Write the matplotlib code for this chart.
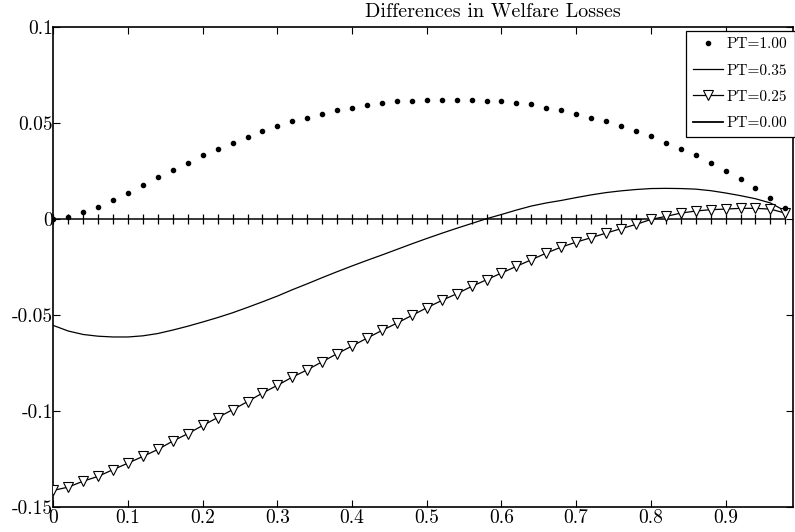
import matplotlib
matplotlib.use("Agg")
import matplotlib.pyplot as plt
from matplotlib.lines import Line2D
import numpy as np

plt.rcParams['font.family'] = ['cmr10', 'DejaVu Serif']
plt.rcParams['mathtext.fontset'] = 'cm'
plt.rcParams['axes.formatter.use_mathtext'] = True

x = [round(0.02 * i, 2) for i in range(50)]

pt100 = [0.0, 0.001, 0.0033, 0.006, 0.0099, 0.0135, 0.0177, 0.0217, 0.0255, 0.0292,
         0.033, 0.0365, 0.0396, 0.0425, 0.0455, 0.0482, 0.0507, 0.0526, 0.0543, 0.0564,
         0.0578, 0.0594, 0.0604, 0.0611, 0.0615, 0.062, 0.062, 0.062, 0.062, 0.0615,
         0.0611, 0.0602, 0.0595, 0.0578, 0.0564, 0.0543, 0.0524, 0.0507, 0.0482, 0.0455,
         0.043, 0.0396, 0.0365, 0.033, 0.0288, 0.025, 0.0208, 0.0159, 0.0107, 0.0055]

pt035 = [-0.0556, -0.0585, -0.0603, -0.0612, -0.0616, -0.0616, -0.0610, -0.0598, -0.0580, -0.0560,
         -0.0538, -0.0515, -0.0490, -0.0462, -0.0433, -0.0403, -0.0370, -0.0339, -0.0307, -0.0276,
         -0.0246, -0.0217, -0.0189, -0.0160, -0.0131, -0.0103, -0.0076, -0.0050, -0.0025, 0.0000,
         0.0022, 0.0045, 0.0066, 0.0082, 0.0095, 0.0110, 0.0124, 0.0136, 0.0145, 0.0152,
         0.0157, 0.0158, 0.0157, 0.0154, 0.0146, 0.0134, 0.0120, 0.0104, 0.0082, 0.0040]

pt025 = [-0.1415, -0.1398, -0.1367, -0.1342, -0.1307, -0.1273, -0.1238, -0.1202, -0.1158, -0.1120,
         -0.1077, -0.1036, -0.0995, -0.0953, -0.0908, -0.0868, -0.0825, -0.0787, -0.0745, -0.0703,
         -0.0663, -0.0622, -0.0582, -0.0544, -0.0504, -0.0464, -0.0426, -0.0391, -0.0353, -0.0318,
         -0.0283, -0.0248, -0.0214, -0.0179, -0.0148, -0.0122, -0.0099, -0.0075, -0.0052, -0.0030,
         -0.0004, 0.0012, 0.0029, 0.0040, 0.0047, 0.0050, 0.0054, 0.0054, 0.0050, 0.0029]

pt000 = [0.0] * 50

labels = ['PT=1.00', 'PT=0.35', 'PT=0.25', 'PT=0.00']
xticks = [0, 0.1, 0.2, 0.3, 0.4, 0.5, 0.6, 0.7, 0.8, 0.9]
xticklabels = ['0', '0.1', '0.2', '0.3', '0.4', '0.5', '0.6', '0.7', '0.8', '0.9']
yticks = [0.1, 0.05, 0, -0.05, -0.1, -0.15]
yticklabels = ['0.1', '0.05', '0', '-0.05', '-0.1', '-0.15']
title = 'Differences in Welfare Losses'

fig = plt.figure(figsize=(7.95, 5.32), dpi=100)
ax = fig.add_axes([53.3 / 795, 25.3 / 532, (792.8 - 53.3) / 795, 480 / 532])

ax.plot(x, pt100, linestyle='none', marker='o', markersize=3, color='black',
        label=labels[0], zorder=4)
ax.plot(x, pt035, color='black', lw=0.9, label=labels[1], zorder=3)
ax.plot(x, pt025, color='black', lw=0.9, marker='v', markersize=6.5,
        markerfacecolor='white', markeredgecolor='black', markeredgewidth=0.8,
        label=labels[2], zorder=3)
ax.plot(x, pt000, color='black', lw=1.1, label=labels[3], zorder=2)
ax.plot(x, pt000, linestyle='none', marker='|', markersize=7, color='black',
        markeredgewidth=0.9, zorder=2)

ax.set_xlim(0, 0.99)
ax.set_ylim(-0.15, 0.1)
ax.set_xticks(xticks)
ax.set_xticklabels(xticklabels)
ax.set_yticks(yticks)
ax.set_yticklabels(yticklabels)
ax.tick_params(direction='in', length=5, width=0.8, top=True, right=True,
               labelsize=14, color='black')
ax.tick_params(axis='y', pad=0)
ax.tick_params(axis='x', pad=2)
for s in ax.spines.values():
    s.set_linewidth(1.2)

fig.text(493 / 795, 1 - 12 / 532, title, ha='center', va='center', fontsize=14.5)

handles = [
    Line2D([], [], linestyle='none', marker='o', markersize=3, color='black'),
    Line2D([], [], color='black', lw=0.9),
    Line2D([], [], color='black', lw=0.9, marker='v', markersize=6.5,
           markerfacecolor='white', markeredgecolor='black', markeredgewidth=0.8),
    Line2D([], [], color='black', lw=1.3),
]
leg = ax.legend(handles, labels, loc='upper right',
                bbox_to_anchor=(794.5 / 795, 1 - 30.7 / 532), bbox_transform=fig.transFigure,
                fontsize=11, frameon=True, fancybox=False, framealpha=1,
                edgecolor='black', handlelength=2.0, handletextpad=0.25,
                borderpad=0.45, labelspacing=0.82, borderaxespad=0)
leg.get_frame().set_linewidth(0.9)

fig.savefig('out.png', dpi=100)
